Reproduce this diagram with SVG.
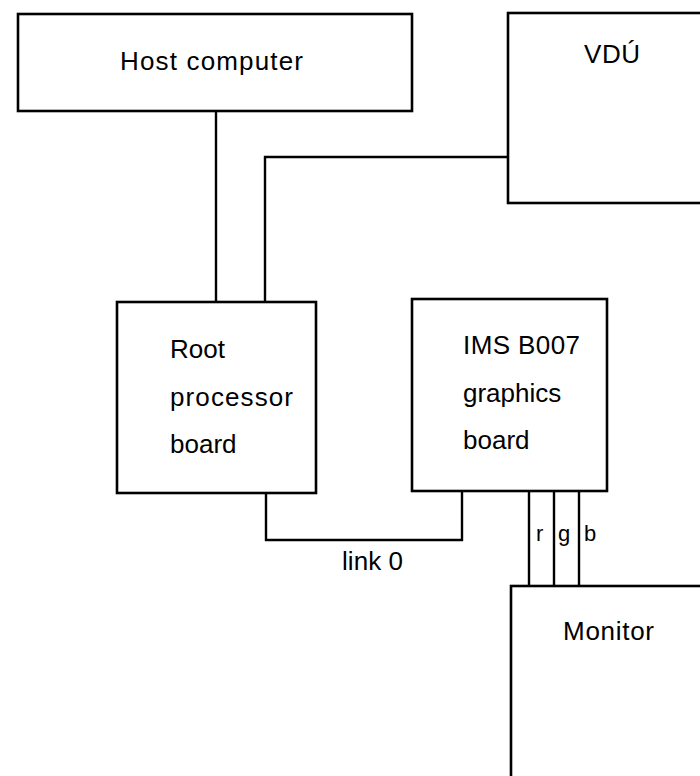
<svg xmlns="http://www.w3.org/2000/svg" width="700" height="776" viewBox="0 0 700 776">
<style>
.box{fill:#fff;stroke:#000;stroke-width:2.6}
.ln{fill:none;stroke:#000;stroke-width:2.4}
.t{font-family:"Liberation Sans",Arial,sans-serif;font-size:26px;fill:#000}
.s{font-family:"Liberation Sans",Arial,sans-serif;font-size:22px;fill:#000}
</style>
<rect width="700" height="776" fill="#fff"/>
<g id="connectors">
<polyline class="ln" points="216,111 216,302"/>
<polyline class="ln" points="508,157 265,157 265,302"/>
<polyline class="ln" points="266,493 266,540 462,540 462,491"/>
<line class="ln" x1="529" y1="491" x2="529" y2="586"/>
<line class="ln" x1="554" y1="491" x2="554" y2="586"/>
<line class="ln" x1="579" y1="491" x2="579" y2="586"/>
<text class="t" x="342" y="570" textLength="61">link 0</text>
<text class="s" x="536" y="541">r</text>
<text class="s" x="558" y="541">g</text>
<text class="s" x="584" y="541">b</text>
</g>
<g id="host">
<rect class="box" x="18" y="14" width="394" height="97"/>
<text class="t" x="120" y="70" textLength="183">Host  computer</text>
</g>
<g id="vdu">
<rect class="box" x="508" y="13" width="200" height="190"/>
<text class="t" x="584" y="63" textLength="56">VDÚ</text>
</g>
<g id="root">
<rect class="box" x="117" y="302" width="199" height="191"/>
<text class="t" x="170" y="358">Root</text>
<text class="t" x="170" y="406" textLength="123">processor</text>
<text class="t" x="170" y="453">board</text>
</g>
<g id="ims">
<rect class="box" x="412" y="299" width="195" height="192"/>
<text class="t" x="463" y="354" textLength="117">IMS B007</text>
<text class="t" x="463" y="402">graphics</text>
<text class="t" x="463" y="449">board</text>
</g>
<g id="monitor">
<rect class="box" x="511" y="586" width="200" height="200"/>
<text class="t" x="563" y="640" textLength="91">Monitor</text>
</g>
</svg>
